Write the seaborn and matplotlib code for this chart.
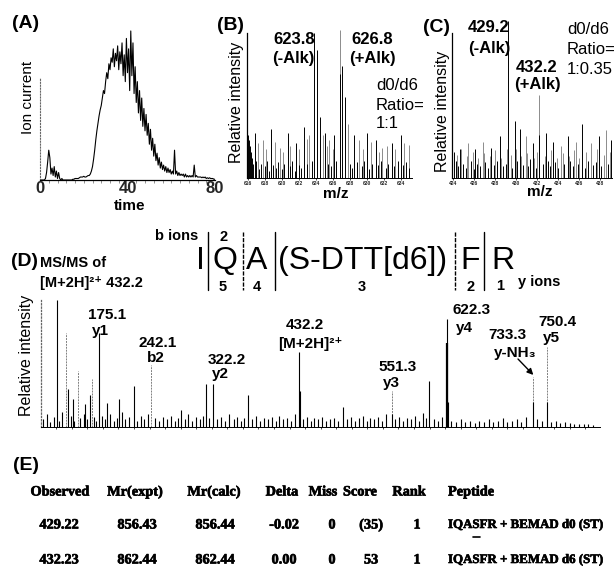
import numpy as np
import matplotlib
matplotlib.use("Agg")
import matplotlib.pyplot as plt
import matplotlib.patheffects as pe
import seaborn as sns
from matplotlib.lines import Line2D

# ---- (A) total ion current, one reading every 0.5 min from 0 to 80 ----
tic_time = np.arange(0, 80.5, 0.5)
tic_signal = [
    0, 0, 0, 0, 0, 0.01,
    0.05, 0.12, 0.2, 0.15, 0.04, 0.08,
    0.03, 0.09, 0.02, 0.06, 0.01, 0.05,
    0.01, 0.0, 0.01, 0.0, 0.0, 0.0,
    0.0, 0.0, 0.0, 0.0, 0.0, 0.0, 0.005, 0.005, 0.01, 0.01, 0.01, 0.01,
    0.015, 0.02, 0.02, 0.02, 0.025, 0.02, 0.02, 0.025, 0.03, 0.03,
    0.04, 0.06, 0.09, 0.14, 0.2, 0.27, 0.33, 0.38, 0.43, 0.47,
    0.5, 0.55, 0.6, 0.58, 0.66, 0.72, 0.68, 0.78, 0.74, 0.82,
    0.79, 0.88, 0.76, 0.85, 0.8, 0.9, 0.74, 0.86, 0.78, 0.92,
    0.7, 0.84, 0.66, 0.95, 0.72, 0.88, 0.6, 1.0, 0.7, 0.92,
    0.58, 0.76, 0.52, 0.66, 0.45, 0.6, 0.4, 0.55, 0.36, 0.48,
    0.33, 0.44, 0.3, 0.38, 0.24, 0.34, 0.2, 0.28, 0.16, 0.24,
    0.13, 0.18, 0.1, 0.15, 0.08, 0.12, 0.07, 0.1, 0.06, 0.09,
    0.05, 0.08, 0.05, 0.07, 0.04, 0.06, 0.04, 0.2, 0.04, 0.06,
    0.03, 0.05, 0.03, 0.04, 0.03, 0.04, 0.02, 0.04, 0.02, 0.03,
    0.02, 0.03, 0.02, 0.03, 0.02, 0.1, 0.02, 0.03, 0.02, 0.02,
    0.02, 0.02, 0.015, 0.02, 0.015, 0.02, 0.01, 0.015, 0.01, 0.015,
    0.01, 0.01, 0.01, 0.005, 0.005,
]

# ---- (B) MS scan around 623.8 / 626.8 ----
b_black_mz = [623.8, 624.1, 624.45, 626.8, 627.1, 627.4,
              616.82, 618.77, 620.71, 621.69, 622.66, 625.11, 626.16, 628.5,
              630.06, 631.03, 632.98, 633.95,
              616.05, 616.15, 616.25, 616.35, 616.45, 616.6, 617.0, 617.3, 617.5,
              618.0, 618.3, 618.5, 619.0, 619.3, 619.5, 620.0, 620.3, 620.9,
              621.2, 621.5, 622.0, 622.3, 622.9, 623.5, 625.4, 625.8, 626.4,
              628.0, 628.2, 628.8, 629.4, 629.7, 630.3, 630.6, 631.3, 631.6,
              632.2, 632.5, 633.2, 633.6, 634.2, 634.6, 635.0]
b_black_int = [1.0, 0.88, 0.42, 0.72, 0.77, 0.56,
               0.31, 0.34, 0.31, 0.24, 0.35, 0.31, 0.3, 0.3,
               0.31, 0.26, 0.24, 0.3,
               0.3, 0.26, 0.22, 0.18, 0.14, 0.1, 0.12, 0.06, 0.1,
               0.08, 0.12, 0.05, 0.09, 0.07, 0.11, 0.06, 0.1, 0.08,
               0.12, 0.05, 0.09, 0.07, 0.1, 0.12, 0.1, 0.08, 0.12,
               0.1, 0.07, 0.11, 0.08, 0.12, 0.06, 0.1, 0.09, 0.12,
               0.07, 0.1, 0.08, 0.12, 0.09, 0.11, 0.07]
b_gray_mz = [626.8, 627.75, 624.8, 617.79, 619.74, 623.24, 625.58, 629.08,
             631.81, 634.9, 617.2, 618.1, 619.2, 620.1, 621.0, 622.0, 623.0,
             625.3, 626.0, 627.8, 629.5, 630.5, 631.4, 632.4, 633.3, 634.4]
b_gray_int = [1.02, 0.37, 0.3, 0.26, 0.21, 0.3, 0.26, 0.26,
              0.21, 0.23, 0.24, 0.2, 0.25, 0.18, 0.22, 0.2, 0.27,
              0.22, 0.2, 0.24, 0.2, 0.25, 0.18, 0.22, 0.2, 0.24]
b_ticks = [616, 618, 620, 622, 624, 626, 628, 630, 632, 634]

# ---- (C) MS scan around 429.2 / 432.2 ----
c_black_mz = [429.2, 432.2,
              424.66, 426.08, 427.65, 428.43, 429.85, 430.32, 431.58, 432.84,
              433.46, 434.88, 436.29, 437.87, 438.97,
              424.1, 424.3, 424.5, 424.9, 425.2, 425.7, 426.0, 426.3, 426.6,
              427.0, 427.3, 427.9, 428.2, 428.7, 429.0, 429.6, 430.1, 430.6,
              431.1, 431.3, 431.9, 432.5, 433.0, 433.2, 433.7, 434.0, 434.5,
              435.1, 435.4, 435.9, 436.5, 436.8, 437.3, 437.6, 438.1, 438.7]
c_black_int = [1.08, 0.3,
               0.2, 0.2, 0.21, 0.29, 0.39, 0.34, 0.24, 0.31,
               0.25, 0.29, 0.37, 0.29, 0.26,
               0.18, 0.12, 0.08, 0.1, 0.07, 0.12, 0.06, 0.1, 0.08,
               0.11, 0.07, 0.09, 0.12, 0.08, 0.1, 0.07, 0.12, 0.09,
               0.08, 0.13, 0.07, 0.1, 0.12, 0.08, 0.11, 0.07, 0.1,
               0.12, 0.08, 0.1, 0.07, 0.12, 0.09, 0.11, 0.08, 0.1]
c_gray_mz = [432.2, 425.45, 426.86, 429.12, 430.89, 434.25, 435.67, 437.08, 438.5,
             424.4, 424.8, 425.3, 425.9, 426.4, 426.9, 427.5, 428.0, 428.6,
             429.5, 430.0, 430.5, 431.0, 431.7, 432.0, 432.7, 433.3, 433.9,
             434.4, 435.0, 435.5, 436.0, 436.6, 437.1, 437.7, 438.3, 438.9]
c_gray_int = [0.57, 0.24, 0.25, 0.2, 0.29, 0.22, 0.25, 0.24, 0.33,
              0.16, 0.2, 0.15, 0.18, 0.14, 0.17, 0.15, 0.19, 0.14,
              0.16, 0.2, 0.15, 0.17, 0.14, 0.18, 0.15, 0.19, 0.14,
              0.17, 0.15, 0.19, 0.14, 0.18, 0.15, 0.2, 0.16, 0.18]
c_ticks = [424, 426, 428, 430, 432, 434, 436, 438]

# ---- (D) MS/MS of 432.2 ----
d_black_mz = [121.5, 135.5, 141, 157, 163.7, 175.1, 185.8, 201.1, 220, 280.5,
              312.6, 322.2, 367, 432.2, 433.2, 489, 551.3, 599.6, 622.3, 623.3,
              733.3, 750.4,
              103, 108, 112, 117, 124, 128, 139, 143, 151, 156, 160, 168, 171,
              179, 183, 189, 194, 198, 205, 209, 214, 224, 229, 233, 238, 247,
              252, 257, 262, 268, 273, 277, 285, 290, 295, 300, 305, 309, 317,
              327, 332, 337, 342, 348, 353, 358, 362, 372, 377, 382, 387, 392,
              397, 402, 407, 412, 417, 422, 427, 437, 442, 447, 452, 457, 462,
              467, 472, 477, 482, 494, 499, 504, 509, 514, 519, 524, 529, 534,
              539, 544, 556, 561, 566, 571, 576, 581, 586, 591, 595, 606, 611,
              616, 628, 634, 640, 646, 652, 658, 664, 670, 676, 682, 688, 694,
              700, 706, 712, 718, 724, 738, 744, 756, 762, 768, 774, 780, 786,
              792, 798, 804, 810]
d_black_int = [1.0, 0.3, 0.22, 0.18, 0.25, 0.74, 0.19, 0.22, 0.32, 0.13,
               0.34, 0.34, 0.25, 0.59, 0.28, 0.16, 0.1, 0.36, 0.85, 0.2,
               0.2, 0.2,
               0.06, 0.1, 0.04, 0.08, 0.05, 0.12, 0.09, 0.05, 0.07, 0.1, 0.06, 0.08, 0.05,
               0.09, 0.06, 0.1, 0.05, 0.07, 0.12, 0.06, 0.08, 0.05, 0.09, 0.06, 0.1, 0.07,
               0.05, 0.08, 0.06, 0.09, 0.05, 0.07, 0.06, 0.1, 0.05, 0.08, 0.06, 0.09, 0.07,
               0.06, 0.08, 0.05, 0.1, 0.06, 0.08, 0.05, 0.07, 0.06, 0.09, 0.05, 0.07, 0.06,
               0.08, 0.05, 0.09, 0.06, 0.07, 0.05, 0.1, 0.06, 0.08, 0.05, 0.07, 0.06, 0.08,
               0.05, 0.06, 0.07, 0.05, 0.06, 0.08, 0.05, 0.07, 0.09, 0.05, 0.07, 0.06, 0.08,
               0.05, 0.1, 0.06, 0.08, 0.05, 0.07, 0.06, 0.09, 0.05, 0.11, 0.07, 0.06, 0.05,
               0.08, 0.05, 0.04, 0.06, 0.04, 0.05, 0.03, 0.05, 0.04, 0.06, 0.04, 0.05, 0.07,
               0.04, 0.05, 0.06, 0.04, 0.08, 0.06, 0.05, 0.04, 0.05, 0.03, 0.04, 0.03, 0.02,
               0.02, 0.02, 0.02, 0.015]
d_gray_mz = [132.3, 148.5, 165.7, 242.1, 551.3, 733.3, 750.4]
d_gray_int = [0.74, 0.44, 0.38, 0.49, 0.28, 0.39, 0.63]

# labels drawn above the fragment peaks: (text, x px, y px)
d_labels = [("175.1", 107, 315), ("y1", 100, 331), ("242.1", 158, 343), ("b2", 156, 358),
            ("322.2", 227, 360), ("y2", 220, 374), ("432.2", 305, 325),
            ("[M+2H]²⁺", 310, 344), ("551.3", 398, 367), ("y3", 391, 383),
            ("622.3", 472, 310), ("y4", 464, 328), ("733.3", 507, 335),
            ("y-NH₃", 515, 353), ("750.4", 557, 322), ("y5", 551, 338)]

# ---- (E) Mascot table ----
table_cols = ["Observed", "Mr(expt)", "Mr(calc)", "Delta", "Miss", "Score", "Rank", "Peptide"]
table_rows = [["429.22", "856.43", "856.44", "-0.02", "0", "(35)", "1", "IQASFR + BEMAD d0 (ST)"],
              ["432.23", "862.44", "862.44", "0.00", "0", "53", "1", "IQASFR + BEMAD d6 (ST)"]]

assert len(tic_signal) == len(tic_time)
assert len(b_black_mz) == len(b_black_int) and len(b_gray_mz) == len(b_gray_int)
assert len(c_black_mz) == len(c_black_int) and len(c_gray_mz) == len(c_gray_int)
assert len(d_black_mz) == len(d_black_int) and len(d_gray_mz) == len(d_gray_int)

sns.set_theme(style="white")
plt.rcParams["font.family"] = ["Liberation Sans", "DejaVu Sans"]

W, H = 615, 570
fig = plt.figure(figsize=(W / 100, H / 100), dpi=100)


def fx(x):
    return x / W


def fy(y):
    return 1 - y / H


def box(l, t, r, b):
    return [l / W, 1 - b / H, (r - l) / W, (b - t) / H]


def txt(x, y, s, size=12, weight="normal", ha="center", **kw):
    return fig.text(fx(x), fy(y), s, fontsize=size, fontweight=weight, ha=ha, va="center",
                    color="black", **kw)


def sticks(ax, mz, inten, color, lw=0.7, ls="-"):
    ax.vlines(mz, 0, inten, colors=color, linewidth=lw, linestyles=ls, clip_on=False)


def spectrum_axes(rect, xlim):
    ax = fig.add_axes(rect)
    ax.set_xlim(*xlim)
    ax.set_ylim(0, 1)
    for side in ["top", "right"]:
        ax.spines[side].set_visible(False)
    ax.spines["left"].set_color("black")
    ax.spines["bottom"].set_color("black")
    ax.spines["left"].set_linewidth(0.9)
    ax.spines["bottom"].set_linewidth(0.7)
    ax.set_yticks([])
    return ax


# (A)
ax_a = fig.add_axes(box(40, 25, 215, 180))
sns.lineplot(x=tic_time, y=tic_signal, ax=ax_a, color="black", linewidth=0.8)
ax_a.set_xlim(0, 80)
ax_a.set_ylim(0, 1.04)
ax_a.spines["top"].set_visible(False)
ax_a.spines["right"].set_visible(False)
ax_a.spines["left"].set_linestyle(":")
ax_a.spines["left"].set_color("0.4")
ax_a.spines["left"].set_linewidth(0.8)
ax_a.spines["left"].set_bounds(0, 0.69)
ax_a.spines["bottom"].set_color("black")
ax_a.spines["bottom"].set_linewidth(0.9)
ax_a.set_yticks([])
ax_a.set_xticks([0, 40, 80])
ax_a.set_xticks(np.arange(0, 81, 4), minor=True)
ax_a.tick_params(axis="x", which="major", length=0, pad=1, labelsize=12)
ax_a.tick_params(axis="x", which="minor", bottom=True, length=2, width=0.6, color="0.5")
for lab in ax_a.get_xticklabels():
    lab.set_fontweight("bold")
ax_a.set_xlabel("")
ax_a.set_ylabel("")

# (B)
ax_b = spectrum_axes(box(247, 33, 412, 178), (615.9, 635.3))
sticks(ax_b, b_gray_mz, b_gray_int, "0.55")
sticks(ax_b, b_black_mz, b_black_int, "black")
ax_b.set_xticks(b_ticks)
ax_b.tick_params(axis="x", bottom=True, length=1.5, width=0.5, pad=1, labelsize=3.5, color="black")
for lab in ax_b.get_xticklabels():
    lab.set_fontweight("bold")

# (C)
ax_c = spectrum_axes(box(452, 33, 612, 178), (423.9, 439.1))
sticks(ax_c, c_gray_mz, c_gray_int, "0.55")
sticks(ax_c, c_black_mz, c_black_int, "black")
ax_c.set_xticks(c_ticks)
ax_c.tick_params(axis="x", bottom=True, length=1.5, width=0.5, pad=1, labelsize=3.5, color="black")
for lab in ax_c.get_xticklabels():
    lab.set_fontweight("bold")

# (D)
ax_d = spectrum_axes(box(41, 300, 600, 427), (100.5, 819))
ax_d.spines["left"].set_linestyle(":")
ax_d.spines["left"].set_color("0.4")
sticks(ax_d, d_gray_mz, d_gray_int, "0.5", lw=0.7, ls=(0, (2, 1)))
sticks(ax_d, d_black_mz, d_black_int, "black", lw=0.8)
sticks(ax_d, [622.3], [0.66], "black", lw=1.6)
ax_d.set_xticks(np.arange(120, 819, 20))
ax_d.tick_params(axis="x", bottom=True, length=1.5, width=0.5, labelbottom=False, color="black")
ax_d.annotate("", xy=(733.3, 0.41), xycoords="data",
              xytext=(fx(518), fy(359)), textcoords="figure fraction",
              arrowprops=dict(arrowstyle="-|>", lw=1.0, color="black", mutation_scale=9,
                              shrinkA=0, shrinkB=0))

# panel letters and axis texts
for letter, x, y in [("(A)", 26, 23), ("(B)", 230, 26), ("(C)", 437, 28),
                     ("(D)", 24, 261), ("(E)", 26, 466)]:
    txt(x, y, letter, size=14, weight="bold")

txt(28, 97, "Ion current", size=11, rotation=90)
txt(130, 206, "time", size=11, weight="bold")
txt(237, 102, "Relative intensity", size=11.5, rotation=90)
txt(442, 111, "Relative intensity", size=11.5, rotation=90)
txt(27, 355, "Relative intensity", size=11.5, rotation=90)
txt(336, 194, "m/z", size=11, weight="bold")
txt(540, 192, "m/z", size=11, weight="bold")

txt(294, 40, "623.8", size=12, weight="bold")
txt(293, 58, "(-Alk)", size=12, weight="bold")
txt(372, 40, "626.8", size=12, weight="bold")
txt(372, 58, "(+Alk)", size=12, weight="bold")
txt(376, 85, "d0/d6", size=12, ha="left")
txt(376, 105, "Ratio=", size=12, ha="left")
txt(376, 124, "1:1", size=12, ha="left")

txt(489, 28, "429.2", size=12, weight="bold")
txt(489, 48, "(-Alk)", size=12, weight="bold")
txt(537, 67, "432.2", size=12, weight="bold")
txt(537, 85, "(+Alk)", size=12, weight="bold")
txt(567, 30, "d0/d6", size=12, ha="left")
txt(567, 50, "Ratio=", size=12, ha="left")
txt(567, 70, "1:0.35", size=12, ha="left")

# (D) header and peptide sequence with fragment cleavages
txt(40, 263, "MS/MS of", size=10.5, weight="bold", ha="left")
txt(40, 283, "[M+2H]²⁺ 432.2", size=10.5, weight="bold", ha="left")
txt(198, 236, "b ions", size=10.5, weight="bold", ha="right")
txt(518, 282, "y ions", size=10.5, weight="bold", ha="left")
for s, x in [("I", 200), ("Q", 225), ("A", 257), ("(S-DTT[d6])", 363), ("F", 470), ("R", 503)]:
    txt(x, 261, s, size=23)
for s, x, y in [("2", 224, 237), ("5", 223, 287), ("4", 257, 287), ("3", 362, 287),
                ("2", 471, 287), ("1", 500, 286)]:
    txt(x, y, s, size=10.5, weight="bold")
for x, ls in [(208, "-"), (243, (0, (3, 1))), (275, "-"), (455, (0, (3, 1))), (484, "-")]:
    fig.add_artist(Line2D([fx(x), fx(x)], [fy(232), fy(290)], transform=fig.transFigure,
                          color="black", linewidth=1.0, linestyle=ls))

for s, x, y in d_labels:
    txt(x, y, s, size=11, weight="bold")

# (E) table
col_x = [60, 135, 214, 282, 323, 360, 409, 448]
val_x = [59, 137, 215, 284, 332, 371, 417, 448]
heavy = [pe.withStroke(linewidth=0.45, foreground="black")]
tfont = dict(weight="bold", family=["Liberation Serif", "DejaVu Serif"], path_effects=heavy)
for c, x in zip(table_cols, col_x):
    txt(x, 492, c, size=10.3, ha="left" if c == "Peptide" else "center", **tfont)
for row, y in zip(table_rows, [525, 560]):
    for v, x, c in zip(row, val_x, table_cols):
        if c == "Peptide":
            txt(x, y, v, size=9.3, ha="left", **tfont)
        else:
            txt(x, y, v, size=10.3, **tfont)
fig.add_artist(Line2D([fx(473), fx(480)], [fy(537), fy(537)], transform=fig.transFigure,
                      color="black", linewidth=1.2))

fig.savefig("out.png", dpi=100)
